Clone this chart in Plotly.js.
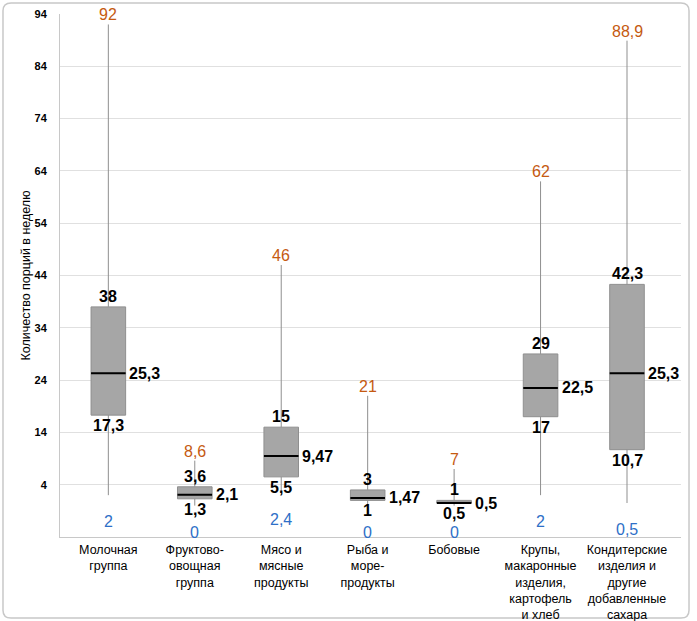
<!DOCTYPE html>
<html>
<head>
<meta charset="utf-8">
<script src="https://cdn.plot.ly/plotly-3.0.1.min.js"></script>
<style>html,body{margin:0;padding:0;background:#fff;}#chart{width:697px;height:621px;}</style>
</head>
<body>
<div id="chart"></div>
<script>
const categories = [
  "Молочная<br>группа",
  "Фруктово-<br>овощная<br>группа",
  "Мясо и<br>мясные<br>продукты",
  "Рыба и<br>море-<br>продукты",
  "Бобовые",
  "Крупы,<br>макаронные<br>изделия,<br>картофель<br>и хлеб",
  "Кондитерские<br>изделия и<br>другие<br>добавленные<br>сахара"
];
const minVals    = [2,    0,   2.4,  0,    0,   2,    0.5];
const q1Vals     = [17.3, 1.3, 5.5,  1,    0.5, 17,   10.7];
const medianVals = [25.3, 2.1, 9.47, 1.47, 0.5, 22.5, 25.3];
const q3Vals     = [38,   3.6, 15,   3,    1,   29,   42.3];
const maxVals    = [92,   8.6, 46,   21,   7,   62,   88.9];
const yTicks     = [4, 14, 24, 34, 44, 54, 64, 74, 84, 94];

const fmt = v => String(v).replace('.', ',');
const FONT = 'Liberation Sans, Arial, sans-serif';
const ORANGE = '#c55a11';
const BLUE = '#2e6fc7';

const boxTrace = {
  type: 'box',
  x: categories,
  q1: q1Vals,
  median: medianVals,
  q3: q3Vals,
  lowerfence: minVals,
  upperfence: maxVals,
  width: 0.4,
  whiskerwidth: 0,
  fillcolor: '#a6a6a6',
  line: {color: '#8f8f8f', width: 1},
  hoverinfo: 'skip',
  showlegend: false
};
const medianTrace = {
  type: 'box',
  x: categories,
  q1: medianVals,
  median: medianVals,
  q3: medianVals,
  lowerfence: medianVals,
  upperfence: medianVals,
  width: 0.4,
  whiskerwidth: 0,
  fillcolor: 'rgba(0,0,0,0)',
  line: {color: '#000000', width: 2},
  hoverinfo: 'skip',
  showlegend: false
};

const annotations = [];
categories.forEach((c, i) => {
  annotations.push({x: c, y: maxVals[i], xref: 'x', yref: 'y', text: fmt(maxVals[i]), showarrow: false,
    yanchor: 'bottom', yshift: -1, font: {family: FONT, size: 16, color: ORANGE}});
  annotations.push({x: c, y: minVals[i], xref: 'x', yref: 'y', text: fmt(minVals[i]), showarrow: false,
    yanchor: 'top', yshift: -16, font: {family: FONT, size: 16, color: BLUE}});
  annotations.push({x: c, y: q3Vals[i], xref: 'x', yref: 'y', text: fmt(q3Vals[i]), showarrow: false,
    yanchor: 'bottom', yshift: 0, font: {family: FONT, size: 16, color: '#000', weight: 'bold'}});
  annotations.push({x: c, y: q1Vals[i], xref: 'x', yref: 'y', text: fmt(q1Vals[i]), showarrow: false,
    yanchor: 'top', yshift: 0, font: {family: FONT, size: 16, color: '#000', weight: 'bold'}});
  annotations.push({x: c, y: medianVals[i], xref: 'x', yref: 'y', text: fmt(medianVals[i]), showarrow: false,
    xanchor: 'left', xshift: 19, yanchor: 'middle', font: {family: FONT, size: 16, color: '#000', weight: 'bold'}});
});

// outer frame (rounded) in paper coords
const L = -0.0918, R = 1.0129, T = 1.021, B = -0.1549, rx = 0.013, ry = 0.015;
const framePath = `M ${L+rx} ${T} L ${R-rx} ${T} Q ${R} ${T} ${R} ${T-ry} L ${R} ${B+ry} Q ${R} ${B} ${R-rx} ${B} L ${L+rx} ${B} Q ${L} ${B} ${L} ${B+ry} L ${L} ${T-ry} Q ${L} ${T} ${L+rx} ${T} Z`;

const layout = {
  width: 697, height: 621,
  margin: {l: 60, r: 16, t: 14, b: 84},
  paper_bgcolor: '#ffffff',
  plot_bgcolor: '#ffffff',
  boxmode: 'overlay',
  showlegend: false,
  font: {family: FONT, color: '#000'},
  xaxis: {
    type: 'category',
    automargin: false,
    showgrid: false,
    showline: true, linecolor: '#c8c8c8', linewidth: 1,
    ticks: '', ticklabelstandoff: 1,
    tickfont: {family: FONT, size: 12.5, color: '#000'},
    fixedrange: true
  },
  yaxis: {
    automargin: false,
    range: [-6, 94],
    tickvals: yTicks,
    ticktext: yTicks.map(String),
    showgrid: true, gridcolor: '#e0e0e0', gridwidth: 1,
    zeroline: false,
    showline: true, linecolor: '#c8c8c8', linewidth: 1,
    ticks: '', ticklabelstandoff: 10,
    tickfont: {family: FONT, size: 11, color: '#000', weight: 'bold'},
    title: {text: 'Количество порций в неделю', font: {family: FONT, size: 12.5, color: '#000'}, standoff: 1},
    fixedrange: true
  },
  annotations: annotations,
  shapes: [{type: 'path', xref: 'paper', yref: 'paper', path: framePath, line: {color: '#c8c8c8', width: 1.5}, layer: 'below'}]
};

Plotly.newPlot('chart', [boxTrace, medianTrace], layout, {displayModeBar: false, staticPlot: true});
</script>
</body>
</html>
